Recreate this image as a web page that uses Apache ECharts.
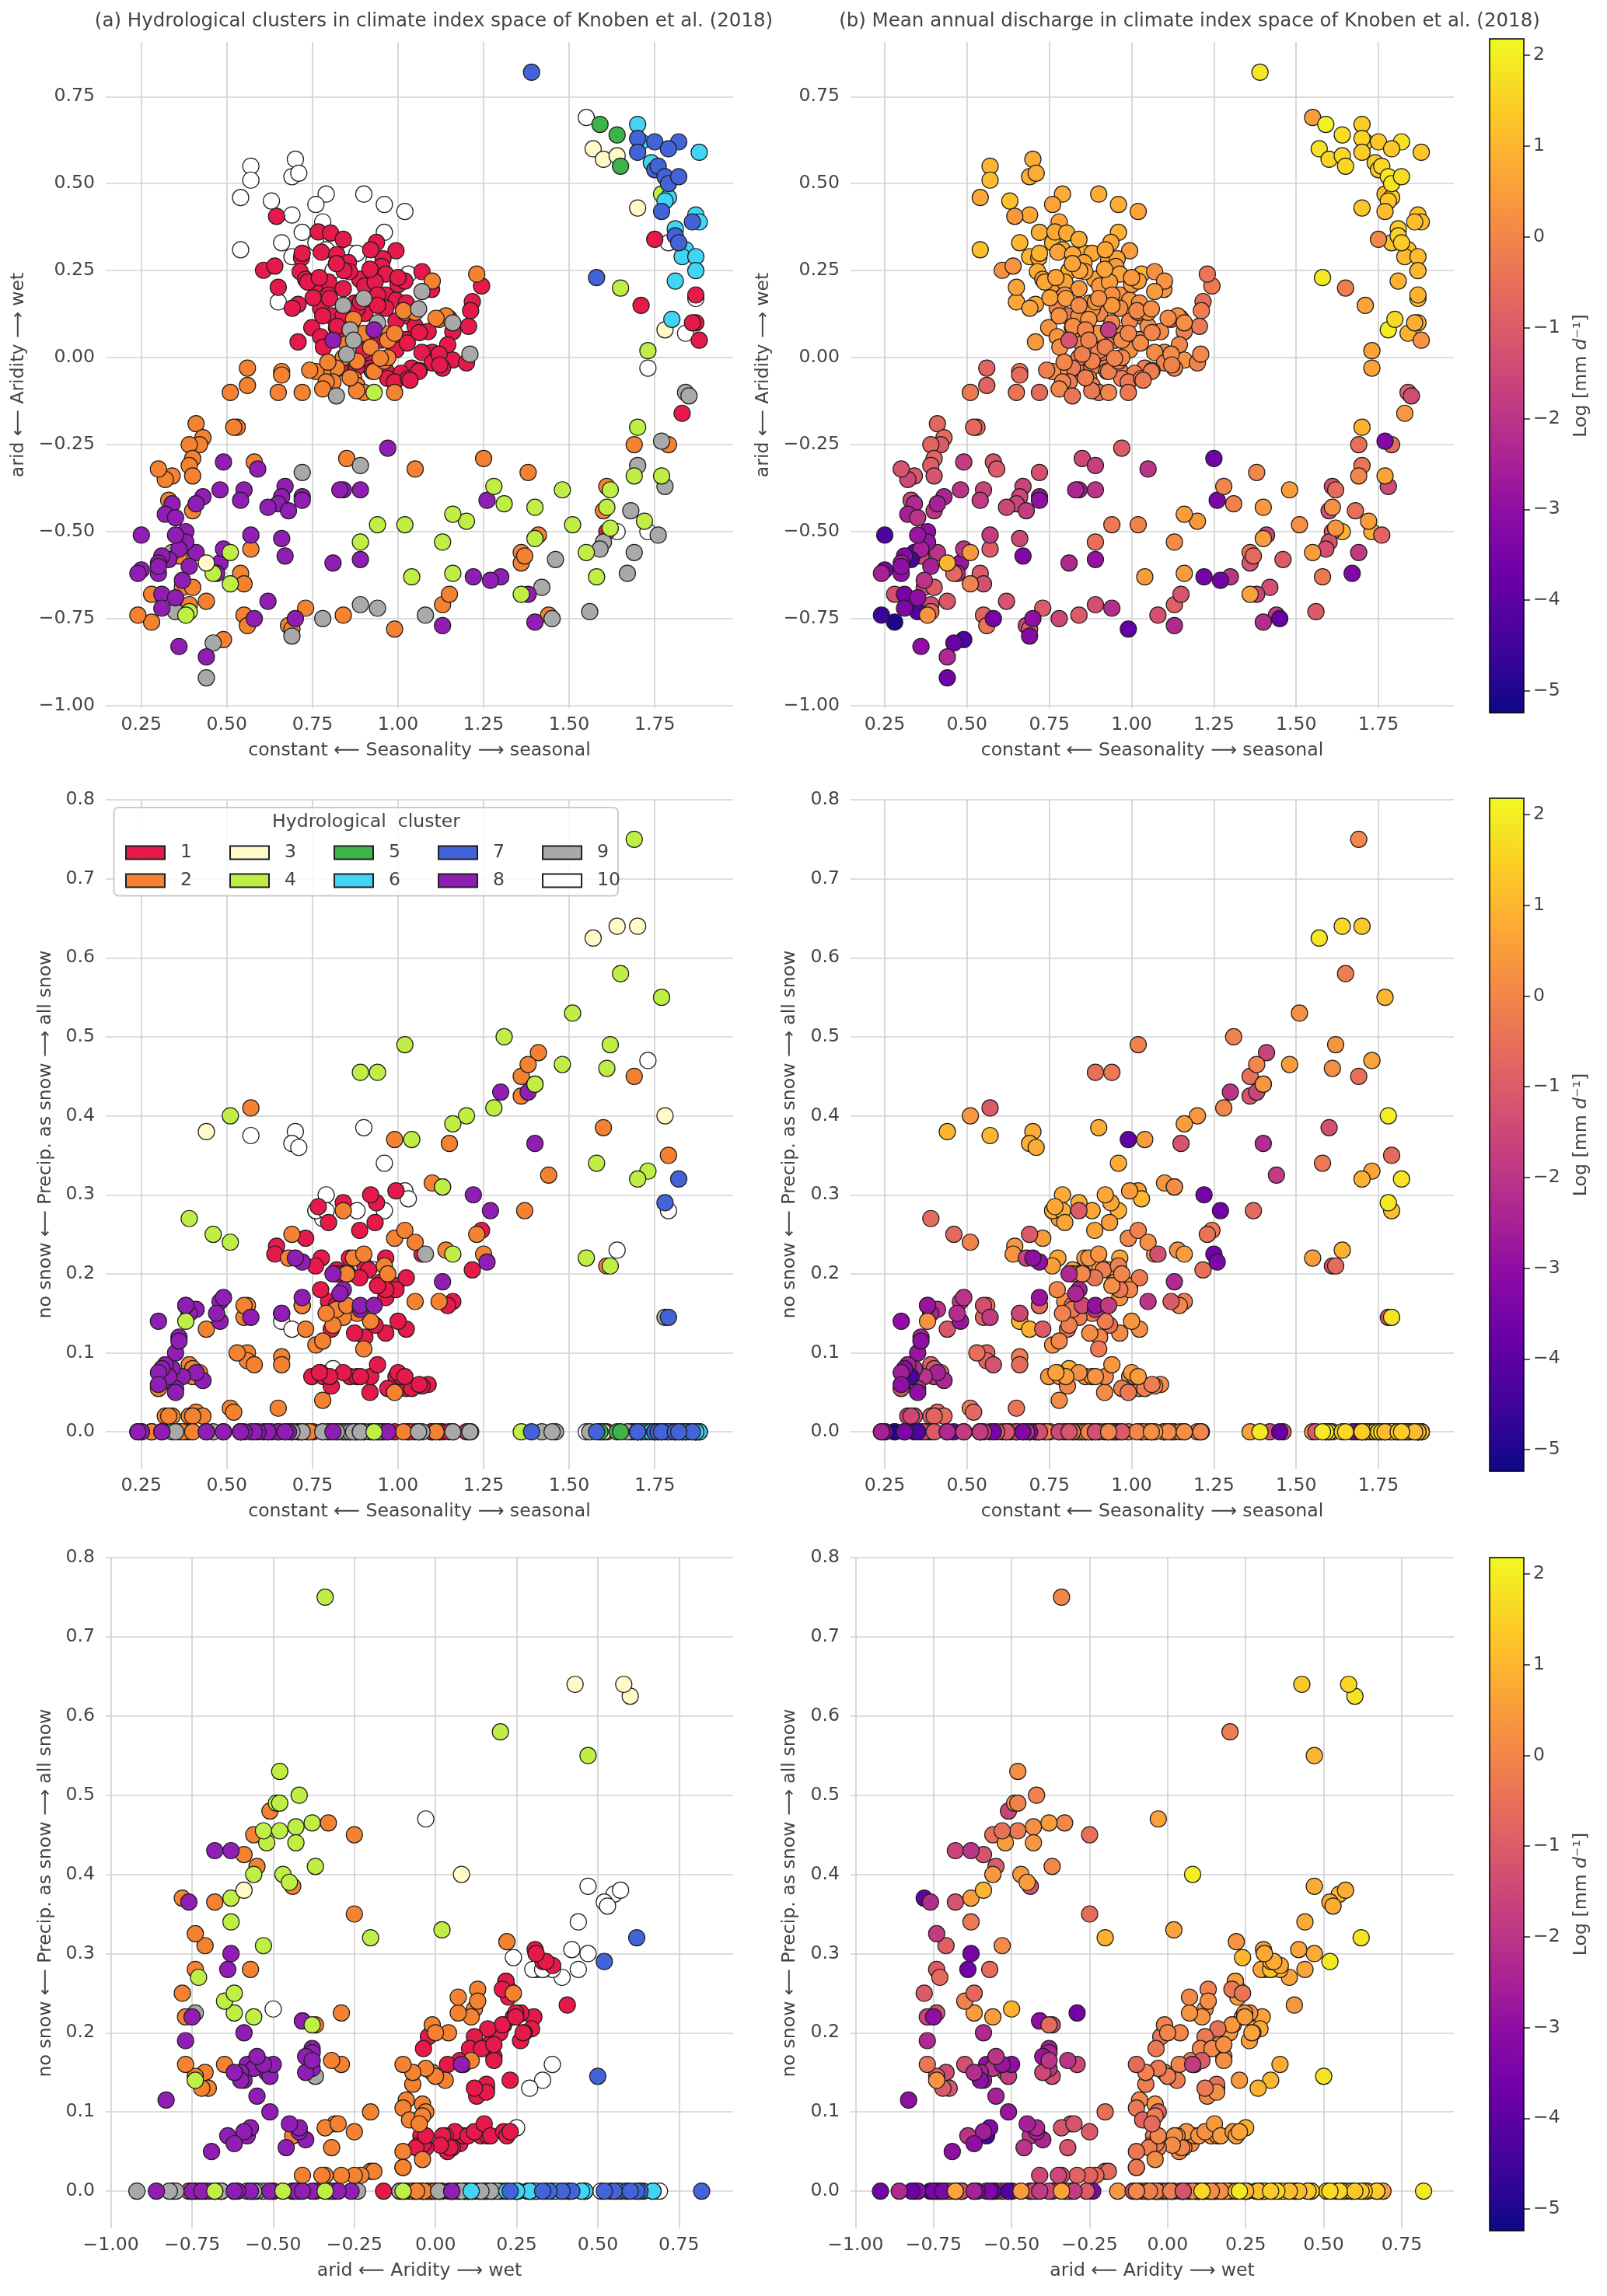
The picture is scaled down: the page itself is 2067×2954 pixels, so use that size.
<!DOCTYPE html>
<html>
<head>
<meta charset="utf-8">
<script src="https://cdn.jsdelivr.net/npm/echarts@6/dist/echarts.min.js"></script>
<style>
html,body{margin:0;padding:0;background:#ffffff;}
#chart{width:2067px;height:2954px;}
</style>
</head>
<body>
<div id="chart"></div>
<script>
// Each row: [seasonality, aridity, fraction of precipitation as snow, log mean annual discharge]
const cluster1 = [
 [0.645,0.406,0.235,0.4],[0.767,0.361,0.285,0.7],[0.803,0.358,0,0.8],[0.937,0.331,0.29,0.7],[0.994,0.307,0.305,0.5],
 [0.718,0.287,0,0.8],[0.776,0.303,0.22,0.6],[0.821,0.296,0.205,0.7],[0.855,0.273,0.20,0.6],[0.956,0.284,0,0.7],
 [0.607,0.251,0,0.2],[0.640,0.263,0.225,0.3],[0.952,0.262,0.19,0.5],[0.964,0.24,0.22,0.6],[0.650,0.202,0,0.6],
 [0.708,0.153,0,0.7],[0.691,0.142,0,0.6],[0.708,0.045,0,0.4],[0.714,0.247,0,0.8],[0.730,0.225,0.245,0.5],
 [0.759,0.210,0.21,0.5],[0.797,0.217,0.265,0.6],[0.840,0.198,0.20,0.4],[0.888,0.225,0.255,0.6],[0.903,0.206,0.21,0.4],
 [0.933,0.217,0.265,0.5],[0.964,0.18,0.17,0.3],[0.994,0.165,0.185,0.3],[1.024,0.157,0.13,0.2],[1.07,0.247,0.225,0.2],
 [1.098,0.196,0,0.4],[1.244,0.206,0.255,-0.3],[1.217,0.161,0.205,-0.5],[1.212,0.135,0,-0.2],[1.206,0.09,0,-0.3],
 [1.16,0.075,0.165,-0.2],[1.145,0.037,0.16,0.0],[1.16,-0.007,0,0.3],[1.20,-0.015,0,-0.1],[1.10,0.015,0,0.0],
 [1.088,0.075,0.06,0.1],[1.024,0.052,0.055,0.0],[1.024,0.12,0.195,-0.3],[0.994,0.105,0.18,0.0],[0.964,0.142,0.125,0.1],
 [0.933,0.157,0.135,-0.5],[0.903,0.127,0.12,0.0],[0.873,0.157,0.125,0.2],[0.797,0.18,0.165,0.2],[0.774,0.142,0.18,0.0],
 [0.805,0.12,0.13,-0.3],[0.748,0.086,0.07,0.3],[0.774,0.06,0.075,0.3],[0.82,0.086,0.16,-0.4],[0.782,0.03,0.07,0.2],
 [0.918,0.037,0.05,0.1],[0.979,0.045,0.055,0.0],[0.994,0.022,0.07,0.2],[1.07,0.015,0.058,0.1],[1.04,-0.03,0.055,-0.1],
 [1.10,-0.015,0,-0.1],[0.914,-0.008,0.205,-0.2],[0.888,-0.022,0.195,-0.4],[0.964,-0.037,0.18,-0.3],[1.009,-0.045,0.07,-0.2],
 [0.805,-0.052,0.058,0.0],[1.062,-0.037,0.06,-0.2],[0.736,0.217,0,0.7],[0.752,0.172,0,0.6],[0.858,0.247,0.22,0.5],
 [0.918,0.254,0,0.6],[0.842,0.25,0,0.7],[0.94,0.18,0.185,0.2],[0.83,-0.03,0,-0.2],[0.97,-0.06,0.055,-0.2],
 [0.99,-0.07,0,-0.3],[1.03,-0.06,0,-0.1],[1.06,-0.04,0,-0.2],[0.92,-0.03,0.07,0.0],[1.13,-0.03,0,-0.1],
 [1.12,0.01,0,0.1],[0.86,0.10,0.07,0.3],[0.88,0.14,0.07,0.4],[0.89,0.16,0.07,0.3],[0.84,0.12,0.075,0.2],
 [0.94,0.15,0.085,0.4],[0.80,0.17,0.07,0.5],[1.00,0.21,0.075,0.4],[1.02,0.22,0.07,0.5],[0.77,0.23,0.075,0.6],
 [1.00,0.23,0.14,0.4],[0.82,0.27,0.20,0.6],[0.84,0.34,0.29,0.8],[0.92,0.31,0.30,0.7],[0.72,0.30,0,0.9],
 [0.78,0.12,0,0.3],[0.85,0.06,0,0.1],[0.90,0.02,0,0.0],[1.05,0.09,0,0.2],[0.95,0.05,0,0.1],
 [1.027,0.042,0,0.1],[1.122,-0.021,0,-0.1],[1.149,0.113,0,0.1],[1.062,0.072,0,0.0],[0.822,0.09,0,0.2],
 [0.879,-0.028,0,-0.2],[0.925,-0.039,0,-0.1],[1.035,-0.065,0,-0.3],
 [1.75,0.34,0,0.0],[1.71,0.15,0,0.6],[1.87,0.18,0,0.9],[1.87,0.10,0,1.0],[1.86,0.10,0,0.8],
 [1.88,0.05,0,0.3],[1.83,-0.16,0,0.4],[1.61,-0.50,0,-1.2]
];
const cluster2 = [
 [1.23,0.24,0.25,-0.4],[1.10,0.22,0.315,0.3],[1.12,0.11,0.165,-1.0],[1.14,0.12,0.23,0.2],[0.87,0.11,0.22,0.3],
 [0.90,0.07,0.225,0.3],[0.92,0.03,0.14,-0.2],[0.96,0.07,0,0.0],[0.97,0.05,0,0.1],[0.85,0.04,0.20,0.0],
 [0.88,-0.01,0.15,-0.1],[0.84,0.00,0.145,-0.2],[0.82,-0.03,0.155,-0.3],[0.81,-0.07,0.135,-0.2],[0.78,-0.04,0.04,0.1],
 [0.76,-0.04,0.11,0.3],[0.79,-0.07,0.15,-0.1],[0.78,-0.09,0.115,0.0],[0.87,-0.06,0,-0.1],[0.88,-0.08,0,0.0],
 [0.93,-0.04,0,-0.2],[0.90,-0.10,0.105,-0.3],[0.99,-0.10,0.05,-0.3],[0.99,0.07,0.245,0.0],[0.96,-0.01,0.21,-0.1],
 [0.97,0.00,0.20,0.0],[1.02,0.13,0.255,-0.1],[1.05,0.13,0.24,0.2],[0.56,-0.03,0.10,-0.8],[0.56,-0.08,0.09,-0.8],
 [0.66,-0.04,0.095,-0.2],[0.66,-0.05,0.085,-0.6],[0.65,-0.10,0.03,-0.4],[0.51,-0.10,0.03,-0.3],[0.72,-0.10,0.16,-0.6],
 [0.53,-0.20,0.10,-0.5],[0.52,-0.20,0.025,-0.7],[0.41,-0.19,0.025,-0.7],[0.43,-0.23,0.02,-0.6],[0.42,-0.25,0.075,-1.0],
 [0.39,-0.25,0.02,-0.8],[0.40,-0.29,0.02,-0.8],[0.39,-0.31,0.085,-0.9],[0.40,-0.34,0.08,-1.2],[0.34,-0.34,0.02,-1.1],
 [0.32,-0.35,0.02,-1.5],[0.30,-0.32,0.055,-1.2],[0.33,-0.41,0.02,-1.5],[0.40,-0.44,0.07,-2.0],[0.39,-0.57,0,-2.0],
 [0.38,-0.56,0,-1.0],[0.36,-0.57,0,-1.5],[0.37,-0.66,0,-1.5],[0.40,-0.66,0,-1.0],[0.39,-0.71,0.15,-1.4],
 [0.28,-0.68,0,-1.3],[0.28,-0.76,0,-5.0],[0.24,-0.74,0,-4.6],[0.44,-0.70,0.13,-1.1],[0.49,-0.81,0,-4.3],
 [0.55,-0.74,0.145,-0.8],[0.56,-0.77,0.16,-0.4],[0.54,-0.62,0,-1.0],[0.55,-0.65,0.16,-1.3],[0.57,-0.55,0.41,-1.0],
 [0.58,-0.30,0.085,-1.2],[0.68,-0.77,0.22,-1.6],[0.69,-0.78,0.25,-1.0],[0.73,-0.72,0.13,-1.0],[0.84,-0.74,0.28,-1.0],
 [0.85,-0.29,0.16,-1.5],[0.99,-0.78,0.37,-3.9],[1.05,-0.32,0.165,-2.0],[1.13,-0.71,0.31,-0.9],[1.15,-0.68,0.365,-1.2],
 [1.25,-0.29,0.225,-3.6],[1.36,-0.56,0.45,-0.5],[1.36,-0.59,0.425,-1.2],[1.37,-0.57,0.28,-0.6],[1.41,-0.51,0.48,-1.6],
 [1.38,-0.33,0.465,0.0],[1.44,-0.74,0.325,-1.8],[1.61,-0.37,0.21,-1.3],[1.60,-0.44,0.385,-1.3],[1.69,-0.25,0.45,-0.5],
 [1.79,-0.25,0.35,-0.6],
 [0.795,-0.013,0,0.0],[0.879,-0.095,0,-0.3],[0.948,-0.002,0,-0.1],[0.742,-0.036,0,-0.2],[0.86,-0.058,0,-0.2],
 [1.111,0.113,0,0.1],[1.016,0.135,0,0.0]
];
const cluster3 = [
 [1.57,0.60,0.625,1.8],[1.60,0.57,0,1.6],[1.64,0.58,0.64,1.6],[1.70,0.43,0.64,1.3],[1.78,0.08,0.40,2.0],
 [0.44,-0.59,0.38,1.0]
];
const cluster4 = [
 [1.77,0.47,0.55,1.0],[1.65,0.20,0.58,-0.2],[1.73,0.02,0.33,0.6],[1.70,-0.20,0.32,0.9],[1.69,-0.34,0.75,0.0],
 [1.77,-0.34,0,0.6],[1.62,-0.38,0.21,-0.6],[1.61,-0.43,0.46,0.2],[1.72,-0.47,0,0.5],[1.62,-0.49,0.49,0.3],
 [1.55,-0.56,0.22,0.5],[1.58,-0.63,0.34,-0.3],[1.51,-0.48,0.53,0.2],[1.48,-0.38,0.465,0.5],[1.40,-0.52,0.44,0.5],
 [1.40,-0.43,0.44,0.4],[1.36,-0.68,0,0.6],[1.31,-0.42,0.50,-0.1],[1.28,-0.37,0.41,0.0],[1.20,-0.47,0.40,0.4],
 [1.16,-0.45,0.39,0.5],[1.16,-0.62,0.225,0.5],[1.13,-0.53,0.31,0.1],[1.04,-0.63,0.37,0.5],[1.02,-0.48,0.49,-0.1],
 [0.94,-0.48,0.455,-0.3],[0.89,-0.53,0.455,-0.5],[0.51,-0.56,0.40,0.4],[0.51,-0.65,0.24,-0.1],[0.46,-0.62,0.25,-0.7],
 [0.39,-0.73,0.27,-0.6],[0.38,-0.74,0.14,0.3],[0.93,-0.10,0,0.0]
];
const cluster5 = [
 [1.59,0.67,0,2.1],[1.64,0.64,0,1.7],[1.65,0.55,0,1.6]
];
const cluster6 = [
 [1.70,0.67,0,1.4],[1.71,0.62,0,1.4],[1.88,0.59,0,1.3],[1.74,0.56,0,1.4],[1.79,0.46,0,1.5],
 [1.78,0.45,0,1.3],[1.87,0.41,0,1.2],[1.88,0.39,0,1.1],[1.81,0.37,0,1.4],[1.84,0.31,0,1.2],
 [1.83,0.29,0,1.1],[1.87,0.29,0,1.1],[1.87,0.25,0,1.0],[1.81,0.22,0,0.9],[1.80,0.11,0,1.6]
];
const cluster7 = [
 [1.39,0.82,0,1.9],[1.70,0.63,0,1.5],[1.70,0.59,0,1.4],[1.75,0.62,0,1.3],[1.82,0.62,0.32,1.8],
 [1.79,0.60,0,1.3],[1.75,0.54,0,1.4],[1.76,0.55,0,1.6],[1.78,0.52,0.29,1.9],[1.79,0.50,0.145,1.8],
 [1.82,0.52,0,1.7],[1.77,0.42,0,1.1],[1.86,0.39,0,1.1],[1.81,0.35,0,1.5],[1.82,0.33,0,1.4],
 [1.58,0.23,0,1.9]
];
const cluster8 = [
 [1.40,-0.76,0.365,-2.2],[1.38,-0.68,0.43,-1.6],[1.30,-0.63,0.43,-2.0],[1.22,-0.63,0.30,-3.5],[1.27,-0.64,0.28,-3.6],
 [1.26,-0.41,0.215,-3.4],[1.13,-0.77,0.19,-2.3],[0.97,-0.26,0,-1.0],[0.89,-0.38,0.155,-2.0],[0.84,-0.38,0.18,-2.5],
 [0.83,-0.38,0.175,-2.4],[0.89,-0.58,0.16,-2.9],[0.81,-0.59,0.20,-2.3],[0.72,-0.40,0.17,-2.8],[0.72,-0.41,0.215,-3.0],
 [0.70,-0.75,0.22,-3.0],[0.67,-0.37,0,-1.6],[0.66,-0.40,0.15,-1.5],[0.65,-0.42,0,-1.6],[0.68,-0.44,0,-1.8],
 [0.66,-0.52,0.15,-1.5],[0.67,-0.57,0,-3.3],[0.62,-0.43,0,-1.5],[0.62,-0.70,0,-1.2],[0.59,-0.32,0,-1.0],
 [0.57,-0.51,0.145,-1.8],[0.58,-0.75,0,-3.5],[0.55,-0.38,0,-1.6],[0.54,-0.41,0,-1.8],[0.49,-0.30,0,-1.8],
 [0.48,-0.38,0.165,-2.0],[0.48,-0.59,0.14,-2.8],[0.44,-0.86,0,-2.3],[0.43,-0.40,0.065,-2.4],[0.41,-0.42,0.075,-2.5],
 [0.41,-0.56,0.155,-2.0],[0.39,-0.60,0.15,-2.5],[0.38,-0.50,0.16,-3.0],[0.38,-0.53,0.16,-2.8],[0.36,-0.55,0.12,-2.5],
 [0.35,-0.51,0.10,-2.8],[0.37,-0.64,0.07,-2.0],[0.36,-0.83,0.115,-3.0],[0.34,-0.42,0.08,-2.3],[0.32,-0.45,0.085,-2.5],
 [0.35,-0.46,0.055,-2.0],[0.33,-0.58,0.07,-4.4],[0.31,-0.57,0.08,-3.2],[0.30,-0.59,0.075,-2.6],[0.30,-0.62,0.06,-3.0],
 [0.31,-0.68,0,-3.5],[0.31,-0.72,0,-3.4],[0.35,-0.69,0.05,-3.0],[0.25,-0.51,0,-4.3],[0.25,-0.61,0,-3.5],
 [0.24,-0.62,0,-2.5],[0.30,-0.60,0.14,-3.0],[0.47,-0.62,0.15,-2.2],[0.49,-0.55,0.17,-2.0],[0.81,0.05,0,-1.2],
 [0.93,0.08,0.16,-1.8]
];
const cluster9 = [
 [1.07,0.19,0,0.5],[0.84,0.15,0,0.1],[0.90,0.17,0,0.2],[1.06,0.14,0,0.2],[0.94,0.10,0,0.0],
 [1.16,0.10,0,0.2],[1.21,0.01,0,0.0],[0.85,0.01,0,-0.2],[0.86,0.08,0,0.0],[0.87,0.05,0,-0.1],
 [0.82,-0.11,0,-0.4],[1.84,-0.10,0,-0.8],[1.85,-0.11,0,-1.4],[1.77,-0.24,0,-3.3],[1.70,-0.31,0,-0.4],
 [1.78,-0.37,0.145,-1.4],[1.68,-0.44,0,-0.5],[1.76,-0.51,0,-0.8],[1.60,-0.53,0,-1.2],[1.59,-0.55,0,-1.3],
 [1.69,-0.56,0,-1.9],[1.67,-0.62,0,-3.3],[1.56,-0.73,0,-1.0],[1.46,-0.58,0,-1.0],[1.42,-0.66,0,-1.3],
 [1.45,-0.75,0,-3.8],[1.08,-0.74,0.225,-1.3],[0.94,-0.72,0,-2.2],[0.89,-0.31,0,-1.7],[0.89,-0.71,0,-1.3],
 [0.78,-0.75,0,-1.5],[0.72,-0.33,0,-1.3],[0.69,-0.80,0,-3.2],[0.46,-0.82,0,-3.7],[0.44,-0.92,0,-3.6],
 [0.34,-0.56,0,-4.0],[0.35,-0.73,0,-4.2]
];
const cluster10 = [
 [0.57,0.55,0.375,1.0],[0.57,0.51,0,1.1],[0.70,0.57,0.38,0.8],[0.69,0.52,0.365,0.8],[0.71,0.53,0.36,0.8],
 [0.54,0.46,0,0.7],[0.63,0.45,0,1.2],[0.54,0.31,0,1.2],[0.79,0.47,0.30,0.8],[0.90,0.47,0.385,0.8],
 [0.96,0.44,0.34,0.8],[1.02,0.42,0.305,0.6],[0.76,0.44,0.28,0.6],[0.69,0.41,0,0.7],[0.78,0.39,0.27,0.6],
 [0.72,0.36,0.16,0.8],[0.96,0.36,0.28,0.9],[0.66,0.33,0.14,1.0],[0.76,0.33,0.28,0.9],[0.79,0.31,0.28,0.9],
 [0.69,0.29,0.13,0.9],[0.86,0.30,0,0.8],[0.88,0.30,0.28,0.7],[0.93,0.28,0.205,0.8],[0.81,0.25,0.08,0.9],
 [1.03,0.24,0.295,1.0],[0.65,0.16,0,0.7],[1.55,0.69,0,0.5],[1.79,0.33,0.28,1.2],[1.87,0.17,0,1.1],
 [1.84,0.07,0,0.9],[1.73,-0.03,0.47,0.6],[1.64,-0.50,0.23,0.9],[1.73,-0.50,0,0.8]
];

const clusterNames = ['1','2','3','4','5','6','7','8','9','10'];
const clusterColors = ['#e6194b','#f58231','#fffac8','#bfef45','#3cb44b','#42d4f4','#4363d8','#911eb4','#a9a9a9','#ffffff'];
const seasonalityTicks = [0.25,0.5,0.75,1.0,1.25,1.5,1.75];
const aridityTicks = [-1.0,-0.75,-0.5,-0.25,0,0.25,0.5,0.75];
const snowTicks = [0,0.1,0.2,0.3,0.4,0.5,0.6,0.7,0.8];
const dischargeTicks = [-5,-4,-3,-2,-1,0,1,2];
const seasonalityRange = [0.146,1.979];
const aridityRangeY = [-1.007,0.907];
const aridityRangeX = [-1.016,0.917];
const snowRange = [-0.047,0.8];
const dischargeRange = [-5.24,2.18];
const plasma = ['#0d0887','#41049d','#6a00a8','#8f0da4','#b12a90','#cc4778','#e16462','#f2844b','#fca636','#fcce25','#f0f921'];
const titleA = '(a) Hydrological clusters in climate index space of Knoben et al. (2018)';
const titleB = '(b) Mean annual discharge in climate index space of Knoben et al. (2018)';
const nameSeason = 'constant ⟵ Seasonality ⟶ seasonal';
const nameArid = 'arid ⟵ Aridity ⟶ wet';
const nameSnow = 'no snow ⟵ Precip. as snow ⟶ all snow';

const clusters = [cluster1,cluster2,cluster3,cluster4,cluster5,cluster6,cluster7,cluster8,cluster9,cluster10];
const drawOrder = [9,0,1,8,7,3,2,4,5,6];

const FONT = 'DejaVu Sans';
const TXT = '#444444';
const FS = 23.6;
const minus = s => s.replace('-', '\u2212');
const fmt = d => v => minus(Number(v).toFixed(d));

const chart = echarts.init(document.getElementById('chart'), null, {renderer:'canvas'});

const L = {left:136, width:807}, R = {left:1094, width:776};
const rows = [{top:54,height:857},{top:1029,height:861},{top:2004,height:863}];
const cbRows = [{top:50,height:867},{top:1027,height:866},{top:2004,height:866}];

const grids = [];
for (let r = 0; r < 3; r++) {
  grids.push({left:L.left, width:L.width, top:rows[r].top, height:rows[r].height});
  grids.push({left:R.left, width:R.width, top:rows[r].top, height:rows[r].height});
}
for (let r = 0; r < 3; r++) grids.push({left:1916, width:44, top:cbRows[r].top, height:cbRows[r].height});

function valAxis(gridIndex, range, ticks, dec, name, gap, isY) {
  return {
    type:'value', gridIndex, min:range[0], max:range[1],
    axisLine:{show:false},
    axisTick:{show:false, customValues:ticks},
    splitLine:{show:true, lineStyle:{color:'#d2d2d2', width:1.7}},
    axisLabel:{customValues:ticks, formatter:fmt(dec), color:TXT, fontSize:FS, fontFamily:FONT, margin: isY ? 14 : 10},
    name, nameLocation:'middle', nameGap:gap,
    nameTextStyle:{color:TXT, fontSize:FS, fontFamily:FONT}
  };
}

const xAxes = [
  valAxis(0, seasonalityRange, seasonalityTicks, 2, nameSeason, 43, false),
  valAxis(1, seasonalityRange, seasonalityTicks, 2, nameSeason, 43, false),
  valAxis(2, seasonalityRange, seasonalityTicks, 2, nameSeason, 43, false),
  valAxis(3, seasonalityRange, seasonalityTicks, 2, nameSeason, 43, false),
  valAxis(4, aridityRangeX, aridityTicks, 2, nameArid, 43, false),
  valAxis(5, aridityRangeX, aridityTicks, 2, nameArid, 43, false)
];
const yAxes = [
  valAxis(0, aridityRangeY, aridityTicks, 2, nameArid, 100, true),
  valAxis(1, aridityRangeY, aridityTicks, 2, nameArid, 100, true),
  valAxis(2, snowRange, snowTicks, 1, nameSnow, 65, true),
  valAxis(3, snowRange, snowTicks, 1, nameSnow, 66, true),
  valAxis(4, snowRange, snowTicks, 1, nameSnow, 65, true),
  valAxis(5, snowRange, snowTicks, 1, nameSnow, 66, true)
];
for (let r = 0; r < 3; r++) {
  xAxes.push({type:'category', gridIndex:6 + r, data:['q'], show:false, boundaryGap:true});
  yAxes.push({
    type:'value', gridIndex:6 + r, position:'right', min:dischargeRange[0], max:dischargeRange[1],
    axisLine:{show:false}, splitLine:{show:false},
    axisTick:{show:true, length:8, customValues:dischargeTicks, lineStyle:{color:'#222', width:1.5}},
    axisLabel:{customValues:dischargeTicks, formatter:fmt(0), color:TXT, fontSize:FS, fontFamily:FONT, margin:12},
    name:'{n|Log [mm }{i|d}{n|\u207b\u00b9]}', nameLocation:'middle', nameGap:62, nameRotate:90,
    nameTextStyle:{color:TXT, fontSize:FS, fontFamily:FONT,
      rich:{n:{color:TXT, fontSize:FS, fontFamily:FONT}, i:{color:TXT, fontSize:FS, fontFamily:FONT, fontStyle:'italic'}}}
  });
}

const series = [];
const clusterPanels = [
  {axis:0, pick:r => [r[0], r[1]]},
  {axis:2, pick:r => [r[0], r[2]]},
  {axis:4, pick:r => [r[1], r[2]]}
];
const markerStyle = {borderColor:'#1e1e1e', borderWidth:1.2};
clusterPanels.forEach(p => {
  drawOrder.forEach(k => {
    series.push({
      type:'scatter', name:clusterNames[k], xAxisIndex:p.axis, yAxisIndex:p.axis,
      data:clusters[k].map(p.pick), symbol:'circle', symbolSize:21,
      itemStyle:Object.assign({color:clusterColors[k], opacity:1}, markerStyle),
      emphasis:{disabled:true}, animation:false
    });
  });
});
const allRows = [];
drawOrder.forEach(k => clusters[k].forEach(r => allRows.push(r)));
const qPanels = [
  {axis:1, pick:r => [r[0], r[1], r[3]]},
  {axis:3, pick:r => [r[0], r[2], r[3]]},
  {axis:5, pick:r => [r[1], r[2], r[3]]}
];
const qSeriesIdx = [];
qPanels.forEach(p => {
  qSeriesIdx.push(series.length);
  series.push({
    type:'scatter', name:'discharge', xAxisIndex:p.axis, yAxisIndex:p.axis,
    data:allRows.map(p.pick), symbol:'circle', symbolSize:21,
    itemStyle:Object.assign({opacity:1}, markerStyle),
    emphasis:{disabled:true}, animation:false
  });
});
const gradStops = plasma.map((c, i) => ({offset: i / (plasma.length - 1), color: c}));
for (let r = 0; r < 3; r++) {
  series.push({
    type:'custom', xAxisIndex:6 + r, yAxisIndex:6 + r, silent:true, animation:false,
    data:[[0, dischargeRange[0], dischargeRange[1]]],
    encode:{x:0, y:[1,2]},
    renderItem:(params, api) => {
      const lo = api.coord([api.value(0), api.value(1)]);
      const hi = api.coord([api.value(0), api.value(2)]);
      const w = api.size([1, 0])[0];
      return {type:'rect', shape:{x:hi[0] - w / 2, y:hi[1], width:w, height:lo[1] - hi[1]},
        style:{fill:new echarts.graphic.LinearGradient(0, 1, 0, 0, gradStops), stroke:'#000', lineWidth:1.5}};
    }
  });
}

const legendCommon = {
  orient:'horizontal', left:156, itemWidth:50, itemHeight:17, itemGap:48, icon:'rect',
  selectedMode:false,
  textStyle:{color:TXT, fontSize:FS, fontFamily:FONT, padding:[0,0,0,15], width:16}
};

const option = {
  backgroundColor:'#ffffff',
  animation:false,
  grid:grids,
  xAxis:xAxes,
  yAxis:yAxes,
  visualMap:{type:'continuous', show:false, min:dischargeRange[0], max:dischargeRange[1], dimension:2,
    seriesIndex:qSeriesIdx, inRange:{color:plasma}},
  legend:[
    Object.assign({data:['1','3','5','7','9'], top:1080}, legendCommon),
    Object.assign({data:['2','4','6','8','10'], top:1116}, legendCommon)
  ],
  graphic:[
    {type:'rect', z:3, shape:{x:146.5, y:1039, width:648.5, height:113.5, r:6},
      style:{fill:'rgba(255,255,255,0.85)', stroke:'#cccccc', lineWidth:2}},
    {type:'text', z:5, x:471, y:1058, style:{text:'Hydrological  cluster', font:FS + 'px "' + FONT + '"', fill:TXT, align:'center', verticalAlign:'middle'}},
    {type:'text', z:5, x:558, y:28, style:{text:titleA, font:'24.5px "' + FONT + '"', fill:TXT, align:'center', verticalAlign:'middle'}},
    {type:'text', z:5, x:1530, y:28, style:{text:titleB, font:'24.5px "' + FONT + '"', fill:TXT, align:'center', verticalAlign:'middle'}}
  ],
  series
};
chart.setOption(option);
</script>
</body>
</html>
